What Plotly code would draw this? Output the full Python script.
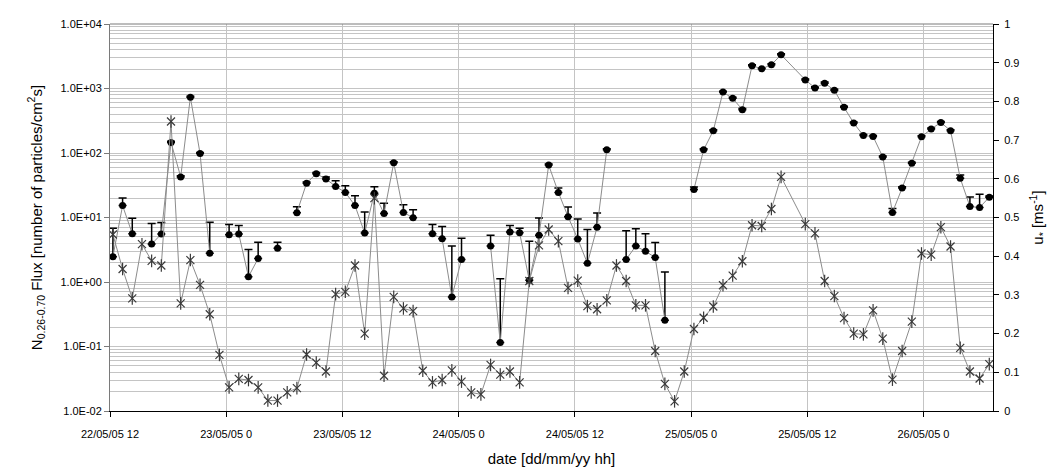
import pandas as pd
import plotly.graph_objects as go

# ---- data -----------------------------------------------------------------
# sampling times: two hourly segments (gap of ~2.5 h on 25/05)
seg1_start, seg1_n = "2005-05-22 12:18", 70
seg2_start, seg2_n = "2005-05-25 11:48", 20

flux1 = [2.47, 15.3, 5.6, None, 3.87, 5.54, 146, 42.6, 734, 97.9,
         2.79, None, 5.41, 5.54, 1.21, 2.32, None, 3.35, None, 11.9,
         34.1, 47.8, 39.7, 30.3, 24.5, 15.3, 5.74, 23.7, 11.5, 70.4,
         12.0, 9.9, None, 5.58, 4.68, 0.588, 2.24, None, None, 3.6,
         0.115, 5.98, 5.8, 1.06, 5.31, 64.9, 24.5, 10.3, 4.65, 1.95,
         7.08, 112, None, 2.24, 3.6, 2.99, 2.4, 0.256, None, None,
         27.2, 112, 222, 881, 703, 470, 2260, 2020, 2340, 3330]
flux2 = [1360, 1020, 1210, 939, 511, 291, 186, 180, 86.9, 12.0,
         28.6, 69.6, 178, 236, 297, 222, 40.6, 14.8, 14.3, 20.6]

upper1 = [6.84, 20.1, 9.72, None, 8.07, 8.36, 152, 44.5, 760, 102,
          8.45, None, 7.8, 7.52, 3.19, 4.14, None, 4.14, None, 14.7,
          35.5, 50, 42.6, 37, 31, 21.8, 12.2, 29.9, 16.6, 73,
          15.8, 13.2, None, 7.8, 7.26, 3.6, 4.76, None, None, 5.3,
          1.12, 7.52, 6.84, 4.29, 9.82, 67.5, 28.6, 14.6, 9.48, 6.53,
          11.7, 116, None, 6.22, 6.72, 5.6, 4.08, 1.43, None, None,
          29.6, 116, 230, 910, 730, 488, 2340, 2100, 2430, 3450]
upper2 = [1410, 1060, 1260, 975, 530, 302, 193, 187, 90, 13.8,
          30, 72, 185, 245, 308, 230, 45.7, 20.8, 22.9, 21.5]

ustar1 = [0.456, 0.367, 0.291, 0.431, 0.388, 0.376, 0.748, 0.278, 0.39, 0.326,
          0.25, 0.145, 0.061, 0.083, 0.080, 0.061, 0.027, 0.027, 0.048, 0.059,
          0.146, 0.125, 0.102, 0.302, 0.308, 0.376, 0.2, 0.55, 0.091, 0.295,
          0.265, 0.258, 0.104, 0.074, 0.08, 0.105, 0.076, 0.048, 0.043, 0.119,
          0.094, 0.102, 0.074, 0.336, 0.428, 0.469, 0.439, 0.318, 0.337, 0.271,
          0.263, 0.286, 0.376, 0.336, 0.273, 0.273, 0.155, 0.07, 0.025, 0.102,
          0.212, 0.241, 0.27, 0.325, 0.35, 0.387, 0.48, 0.478, 0.522, 0.605]
ustar2 = [0.483, 0.459, 0.336, 0.297, 0.24, 0.2, 0.198, 0.26, 0.187, 0.081,
          0.155, 0.231, 0.407, 0.404, 0.475, 0.425, 0.163, 0.102, 0.084, 0.121]

x_ticks = ["2005-05-22 12:00", "2005-05-23 00:00", "2005-05-23 12:00",
           "2005-05-24 00:00", "2005-05-24 12:00", "2005-05-25 00:00",
           "2005-05-25 12:00", "2005-05-26 00:00"]
x_ticktext = ["22/05/05 12", "23/05/05 0", "23/05/05 12", "24/05/05 0",
              "24/05/05 12", "25/05/05 0", "25/05/05 12", "26/05/05 0"]
y_ticks = [1e-2, 1e-1, 1e0, 1e1, 1e2, 1e3, 1e4]
y_ticktext = ["1.0E-02", "1.0E-01", "1.0E+00", "1.0E+01", "1.0E+02",
              "1.0E+03", "1.0E+04"]

# ---- assemble ---------------------------------------------------------------
times = list(pd.date_range(seg1_start, periods=seg1_n, freq="h")) + \
        list(pd.date_range(seg2_start, periods=seg2_n, freq="h"))
flux = flux1 + flux2
upper = upper1 + upper2
ustar = ustar1 + ustar2
err_plus = [(u - f) if (u is not None and f is not None) else 0
            for u, f in zip(upper, flux)]

minor_vals = [m * 10.0 ** e for e in range(-2, 4) for m in range(2, 10)]

FONT = "Liberation Sans, Arial, sans-serif"
GRID = "#c4c4c4"
STAR = "#3a3a3a"

fig = go.Figure()

fig.add_trace(go.Scatter(
    x=times, y=flux, mode="lines+markers", connectgaps=False,
    line=dict(color="#8c8c8c", width=1),
    marker=dict(symbol="circle", size=7, color="black"),
    error_y=dict(type="data", symmetric=False, array=err_plus,
                 arrayminus=[0] * len(err_plus),
                 color="black", thickness=1.5, width=4),
    showlegend=False, hoverinfo="x+y"))

fig.add_trace(go.Scatter(
    x=times, y=ustar, yaxis="y2", mode="lines+markers",
    line=dict(color="#8c8c8c", width=1),
    marker=dict(symbol="x-thin-open", size=8, color=STAR,
                line=dict(color=STAR, width=1.2)),
    showlegend=False, hoverinfo="x+y"))
fig.add_trace(go.Scatter(
    x=times, y=ustar, yaxis="y2", mode="markers",
    marker=dict(symbol="line-ns-open", size=9, color=STAR,
                line=dict(color=STAR, width=1.2)),
    showlegend=False, hoverinfo="skip"))

fig.update_layout(
    width=1058, height=472,
    margin=dict(l=102, r=73, t=10, b=69),
    paper_bgcolor="white", plot_bgcolor="white",
    font=dict(family=FONT, size=11, color="black"),
    xaxis=dict(
        type="date",
        range=["2005-05-22 12:00", "2005-05-26 07:11"],
        tickvals=x_ticks, ticktext=x_ticktext,
        showgrid=True, gridcolor=GRID, gridwidth=1,
        showline=True, linecolor="black", linewidth=1,
        ticks="outside", ticklen=5, tickcolor="black",
        ticklabelstandoff=8,
        tickfont=dict(size=11),
        title=dict(text="date [dd/mm/yy hh]", font=dict(size=15), standoff=14),
        zeroline=False),
    yaxis=dict(
        type="log", range=[-2, 4],
        tickvals=y_ticks, ticktext=y_ticktext,
        showgrid=True, gridcolor=GRID, gridwidth=1,
        minor=dict(tickvals=minor_vals, showgrid=True, gridcolor=GRID,
                   gridwidth=1, ticks=""),
        showline=True, linecolor="#7a7a7a", linewidth=1,
        ticks="outside", ticklen=5, tickcolor="#7a7a7a",
        tickfont=dict(size=11),
        title=dict(text="N<sub>0.26-0.70</sub> Flux [number of particles/cm<sup>2</sup>s]",
                   font=dict(size=15), standoff=14),
        zeroline=False),
    yaxis2=dict(
        overlaying="y", side="right", range=[0, 1], dtick=0.1,
        showgrid=False, zeroline=False,
        showline=True, linecolor="black", linewidth=1,
        ticks="outside", ticklen=5, tickcolor="black",
        ticklabelstandoff=3,
        tickfont=dict(size=11),
        title=dict(text="u<sub>*</sub> [ms<sup>-1</sup>]", font=dict(size=15),
                   standoff=14)),
    shapes=[dict(type="line", xref="paper", yref="paper", x0=0, x1=1,
                 y0=1, y1=1, line=dict(color="#7a7a7a", width=1))],
)

fig.write_html("out.html", config={"displayModeBar": False})
